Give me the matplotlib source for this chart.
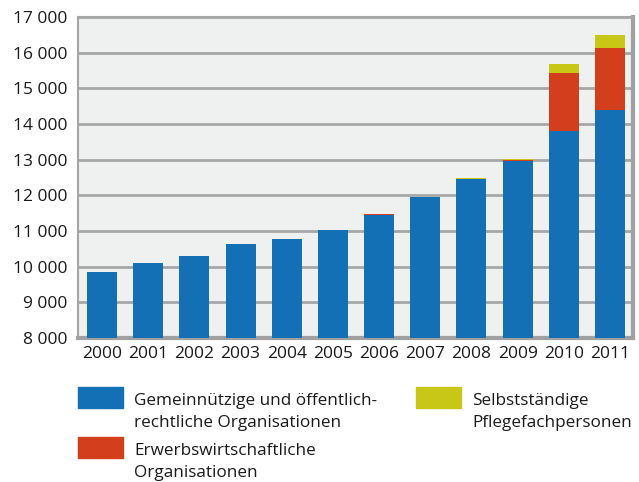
import numpy as np
import matplotlib.pyplot as plt
from matplotlib.patches import Rectangle
from matplotlib.ticker import FuncFormatter

plt.rcParams['font.family'] = ['Open Sans', 'DejaVu Sans']

years = ['2000', '2001', '2002', '2003', '2004', '2005',
         '2006', '2007', '2008', '2009', '2010', '2011']
gemeinnuetzig = [9840, 10100, 10300, 10630, 10770, 11020,
                 11460, 11940, 12460, 12970, 13800, 14400]
erwerb = [8, 8, 8, 8, 8, 8, 10, 10, 10, 15, 1620, 1720]
selbst = [5, 5, 5, 5, 5, 5, 5, 5, 5, 30, 255, 370]
labels = ['Gemeinnützige und öffentlich-\nrechtliche Organisationen',
          'Erwerbswirtschaftliche\nOrganisationen',
          'Selbstständige\nPflegefachpersonen']
colors = ['#1470b4', '#d33f1c', '#c8c617']

fig = plt.figure(figsize=(6.39, 4.82), dpi=100)
ax = fig.add_axes([78/639, 1-338/482, 555/639, 321/482])
ax.set_facecolor('#eff0f0')

x = np.arange(len(years))
g = np.array(gemeinnuetzig)
e = np.array(erwerb)
s = np.array(selbst)
ax.bar(x, g, width=0.65, color=colors[0], zorder=3)
ax.bar(x, e, width=0.65, bottom=g, color=colors[1], zorder=3)
ax.bar(x, s, width=0.65, bottom=g + e, color=colors[2], zorder=3)

ax.set_ylim(8000, 17000)
ax.set_xlim(-0.52, 11.5)
ax.set_yticks(np.arange(8000, 17001, 1000))
ax.yaxis.set_major_formatter(FuncFormatter(lambda v, p: f'{int(v):,}'.replace(',', ' ')))
ax.set_xticks(x)
ax.set_xticklabels(years)
ax.tick_params(axis='both', length=0, labelsize=12.5, colors='#1a1a1a')
ax.tick_params(axis='y', pad=7.5)
ax.tick_params(axis='x', pad=6)
ax.grid(axis='y', color='#a6a6a6', linewidth=2, zorder=1)

for side in ['left', 'top']:
    ax.spines[side].set_color('#a6a6a6')
    ax.spines[side].set_linewidth(1.5)
for side in ['right', 'bottom']:
    ax.spines[side].set_color('#a0a0a0')
    ax.spines[side].set_linewidth(3)

# legend drawn by hand, baseline of the 2nd line at handle top + 40px
pos = [(78, 387, 134), (78, 437, 134), (416, 387, 472)]
for (px, py, tx), lab, c in zip(pos, labels, colors):
    fig.add_artist(Rectangle((px/639, 1-(py+21)/482), 45/639, 21/482,
                             color=c, transform=fig.transFigure))
    fig.text(tx/639, 1-(py+40)/482, lab, va='baseline', ha='left',
             fontsize=12.3, color='#1a1a1a', linespacing=1.5)

fig.savefig('out.png', dpi=100)
